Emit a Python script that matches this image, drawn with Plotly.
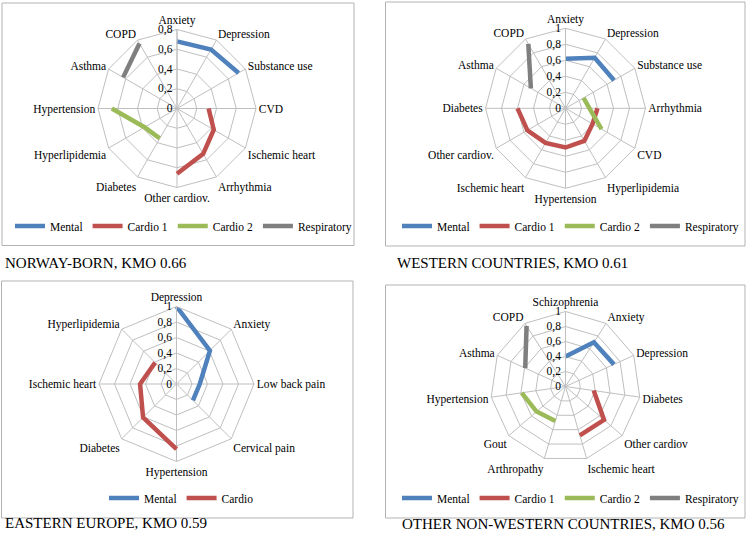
import plotly.graph_objects as go

W, H = 746, 536

# ---------- data ----------
series_names = ["Mental", "Cardio 1", "Cardio 2", "Respiratory"]
series_colors = ["#4F81BD", "#C0504D", "#9BBB59", "#7F7F7F"]

# Panel 1: Norway-born
p1_categories = ["Anxiety", "Depression", "Substance use", "CVD", "Ischemic heart",
                 "Arrhythmia", "Other cardiov.", "Diabetes", "Hyperlipidemia",
                 "Hypertension", "Asthma", "COPD"]
p1_mental = [0.68, 0.69, 0.72, None, None, None, None, None, None, None, None, None]
p1_cardio1 = [None, None, None, 0.32, 0.43, 0.53, 0.66, None, None, None, None, None]
p1_cardio2 = [None, None, None, None, None, None, None, 0.35, 0.38, 0.66, None, None]
p1_resp = [None, None, None, None, None, None, None, None, None, None, 0.63, 0.76]

# Panel 2: Western countries
p2_categories = ["Anxiety", "Depression", "Substance use", "Arrhythmia", "CVD",
                 "Hyperlipidemia", "Hypertension", "Ischemic heart", "Other cardiov.",
                 "Diabetes", "Asthma", "COPD"]
p2_mental = [0.62, 0.73, 0.70, None, None, None, None, None, None, None, None, None]
p2_cardio1 = [None, None, None, 0.40, 0.39, 0.47, 0.49, 0.50, 0.55, 0.60, None, None]
p2_cardio2 = [None, None, 0.26, 0.30, 0.52, None, None, None, None, None, None, None]
p2_resp = [None, None, None, None, None, None, None, None, None, None, 0.50, 0.93]

# Panel 3: Eastern Europe
p3_categories = ["Depression", "Anxiety", "Low back pain", "Cervical pain",
                 "Hypertension", "Diabetes", "Ischemic heart", "Hyperlipidemia"]
p3_mental = [1.0, 0.61, 0.30, 0.30, None, None, None, None]
p3_cardio = [None, None, None, None, 0.84, 0.61, 0.47, 0.39]

# Panel 4: Other non-western countries
p4_categories = ["Schizophrenia", "Anxiety", "Depression", "Diabetes", "Other cardiov",
                 "Ischemic heart", "Arthropathy", "Gout", "Hypertension", "Asthma", "COPD"]
p4_mental = [0.40, 0.70, 0.71, None, None, None, None, None, None, None, None]
p4_cardio1 = [None, None, None, 0.38, 0.68, 0.68, None, None, None, None, None]
p4_cardio2 = [None, None, None, None, None, None, 0.48, 0.51, 0.59, None, None]
p4_resp = [None, None, None, None, None, None, None, None, None, 0.59, 0.96]

captions = ["NORWAY-BORN, KMO 0.66", "WESTERN COUNTRIES, KMO 0.61",
            "EASTERN EUROPE, KMO 0.59", "OTHER NON-WESTERN COUNTRIES, KMO 0.56"]

# ---------- layout helpers ----------
FONT = "Liberation Serif"
GRID = "#BFBFBF"


def px_x(x):
    return x / W


def px_y(y):
    return 1 - y / H


panels = [
    dict(cats=p1_categories, rmax=0.8, center=(177, 108.5), rad=79,
         series=[("Mental", p1_mental, series_colors[0]),
                 ("Cardio 1", p1_cardio1, series_colors[1]),
                 ("Cardio 2", p1_cardio2, series_colors[2]),
                 ("Respiratory", p1_resp, series_colors[3])],
         box=(2, 3, 354, 245.5), legend_xy=(10, 226),
         caption_xy=(3, 263)),
    dict(cats=p2_categories, rmax=1.0, center=(565.5, 108.3), rad=80,
         series=[("Mental", p2_mental, series_colors[0]),
                 ("Cardio 1", p2_cardio1, series_colors[1]),
                 ("Cardio 2", p2_cardio2, series_colors[2]),
                 ("Respiratory", p2_resp, series_colors[3])],
         box=(385.5, 2, 745, 246), legend_xy=(397, 226),
         caption_xy=(395, 263)),
    dict(cats=p3_categories, rmax=1.0, center=(176.5, 384), rad=77.5,
         series=[("Mental", p3_mental, series_colors[0]),
                 ("Cardio", p3_cardio, series_colors[1])],
         box=(1.5, 281, 353, 518), legend_xy=(104, 498),
         caption_xy=(3, 523)),
    dict(cats=p4_categories, rmax=1.0, center=(565.5, 386.5), rad=75,
         series=[("Mental", p4_mental, series_colors[0]),
                 ("Cardio 1", p4_cardio1, series_colors[1]),
                 ("Cardio 2", p4_cardio2, series_colors[2]),
                 ("Respiratory", p4_resp, series_colors[3])],
         box=(385.5, 285, 745, 518), legend_xy=(397, 498),
         caption_xy=(400, 524)),
]

fig = go.Figure()
layout = dict(
    width=W, height=H,
    margin=dict(l=0, r=0, t=0, b=0, pad=0, autoexpand=False),
    paper_bgcolor="white",
    plot_bgcolor="white",
    separators=",.",
    font=dict(family=FONT, size=12, color="#000000"),
    shapes=[], annotations=[],
)

for i, p in enumerate(panels):
    idx = "" if i == 0 else str(i + 1)
    polar_name = "polar" + idx
    legend_name = "legend" + idx
    cx, cy = p["center"]
    r = p["rad"]
    for name, vals, color in p["series"]:
        fig.add_trace(go.Scatterpolar(
            r=vals, theta=p["cats"], mode="lines", name=name,
            line=dict(color=color, width=4.5),
            connectgaps=False, subplot=polar_name, legend=legend_name,
            hoverinfo="skip",
        ))
    layout[polar_name] = dict(
        domain=dict(x=[px_x(cx - r), px_x(cx + r)], y=[px_y(cy + r), px_y(cy - r)]),
        bgcolor="white",
        gridshape="linear",
        angularaxis=dict(
            type="category", categoryorder="array", categoryarray=p["cats"],
            rotation=90, direction="clockwise",
            showline=True, linecolor=GRID, linewidth=1,
            gridcolor=GRID, gridwidth=1, ticks="",
            tickfont=dict(family=FONT, size=11.5, color="#000000"),
        ),
        radialaxis=dict(
            range=[0, p["rmax"]], dtick=0.2, tick0=0,
            angle=90, side="counterclockwise", tickangle=90,
            showline=True, linecolor=GRID, linewidth=1,
            gridcolor=GRID, gridwidth=1, ticks="",
            tickfont=dict(family=FONT, size=11.5, color="#000000"),
        ),
    )
    lx, ly = p["legend_xy"]
    layout[legend_name] = dict(
        orientation="h", x=px_x(lx), y=px_y(ly), xanchor="left", yanchor="middle",
        bgcolor="rgba(0,0,0,0)", font=dict(family=FONT, size=11.5, color="#000000"),
        itemwidth=30, tracegroupgap=0,
    )
    x0, y0, x1, y1 = p["box"]
    layout["shapes"].append(dict(
        type="rect", xref="paper", yref="paper",
        x0=px_x(x0), x1=px_x(x1), y0=px_y(y1), y1=px_y(y0),
        line=dict(color="#B3B3B3", width=1), fillcolor="rgba(0,0,0,0)", layer="below",
    ))
    tx, ty = p["caption_xy"]
    layout["annotations"].append(dict(
        text=captions[i], xref="paper", yref="paper", x=px_x(tx), y=px_y(ty),
        xanchor="left", yanchor="middle", showarrow=False,
        font=dict(family=FONT, size=15, color="#000000"),
    ))

fig.update_layout(**layout)
fig.write_html("out.html", config={"displayModeBar": False},
               post_script="document.body.style.margin='0px';")
